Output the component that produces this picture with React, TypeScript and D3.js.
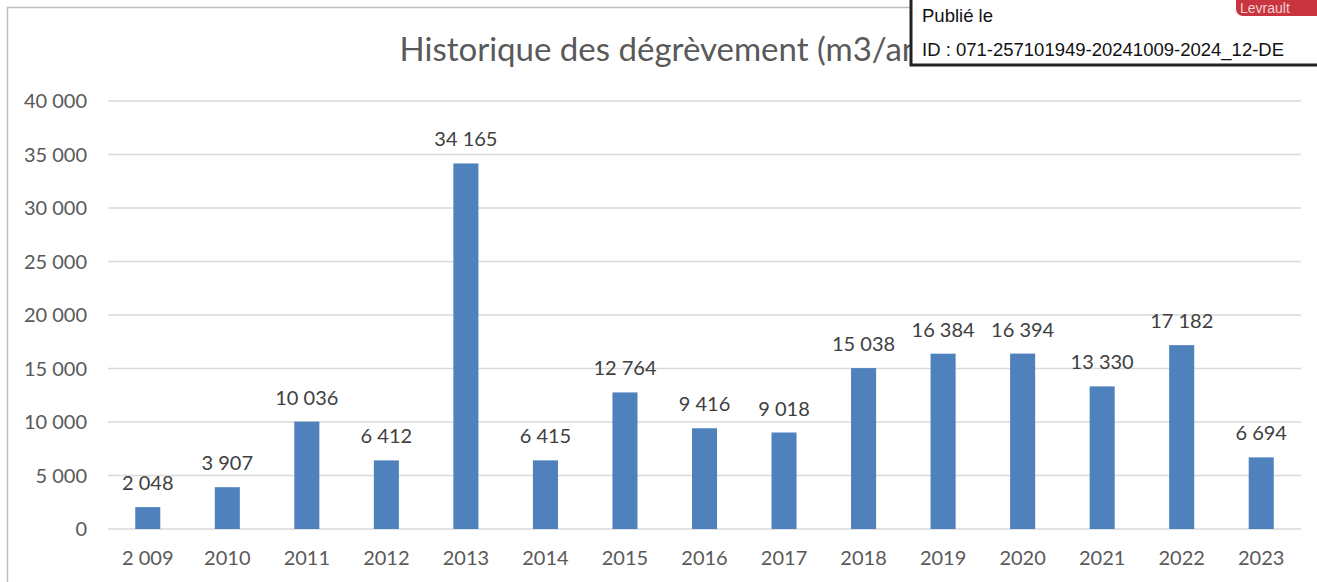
import React from "react";
import * as d3 from "d3";

const categories = ["2 009", "2010", "2011", "2012", "2013", "2014", "2015", "2016", "2017", "2018", "2019", "2020", "2021", "2022", "2023"];
const values = [2048, 3907, 10036, 6412, 34165, 6415, 12764, 9416, 9018, 15038, 16384, 16394, 13330, 17182, 6694];
const yTicks = [0, 5000, 10000, 15000, 20000, 25000, 30000, 35000, 40000];
const title = "Historique des dégrèvement (m3/an)";
const stampLines = ["Publié le", "ID : 071-257101949-20241009-2024_12-DE"];

const fmt = (v: number) => d3.format(",")(v).replace(/,/g, " ");

export default function App() {
  const W = 1317, H = 582;
  const x = d3.scaleBand<string>().domain(categories).range([108, 1301]).paddingInner(0.685).paddingOuter(0.3425);
  const y = d3.scaleLinear().domain([0, 40000]).range([529, 101]);
  const font = "Lato, 'Open Sans', sans-serif";
  const grey = "#595959";
  const sans = "'Liberation Sans', Arial, sans-serif";
  return (
    <svg width={W} height={H} style={{ position: "absolute", left: 0, top: 0, background: "#fff" }}>
      <rect x={7.5} y={7.5} width={1330} height={600} fill="#fff" stroke="#bfbfbf" strokeWidth={1.5} />
      <text x={664} y={61} textAnchor="middle" fontFamily={font} fontSize={33} fill={grey}>{title}</text>
      {yTicks.map(t => (
        <g key={t}>
          <line x1={108} x2={1301} y1={y(t)} y2={y(t)} stroke="#d9d9d9" strokeWidth={1.5} />
          <text x={87} y={y(t)} dy="0.35em" textAnchor="end" fontFamily={font} fontSize={20} fill={grey}>{fmt(t)}</text>
        </g>
      ))}
      {categories.map((c, i) => (
        <g key={c}>
          <rect x={x(c)} y={y(values[i])} width={x.bandwidth()} height={y(0) - y(values[i])} fill="#4F81BD" />
          <text x={(x(c) as number) + x.bandwidth() / 2} y={y(values[i]) - 17} textAnchor="middle" fontFamily={font} fontSize={20} fill="#404040">{fmt(values[i])}</text>
          <text x={(x(c) as number) + x.bandwidth() / 2} y={565} textAnchor="middle" fontFamily={font} fontSize={20} fill={grey}>{c}</text>
        </g>
      ))}
      <rect x={911} y={-5} width={420} height={70} fill="#fff" stroke="#222" strokeWidth={3} />
      <text x={922} y={22} fontFamily={sans} fontSize={18.5} fill="#111">{stampLines[0]}</text>
      <text x={922} y={56} fontFamily={sans} fontSize={18.5} fill="#111">{stampLines[1]}</text>
      <rect x={1236} y={-8} width={90} height={24} rx={7} fill="#c8343f" />
      <text x={1240} y={13} fontFamily={sans} fontSize={14} fill="#f5d0d0">Levrault</text>
    </svg>
  );
}
